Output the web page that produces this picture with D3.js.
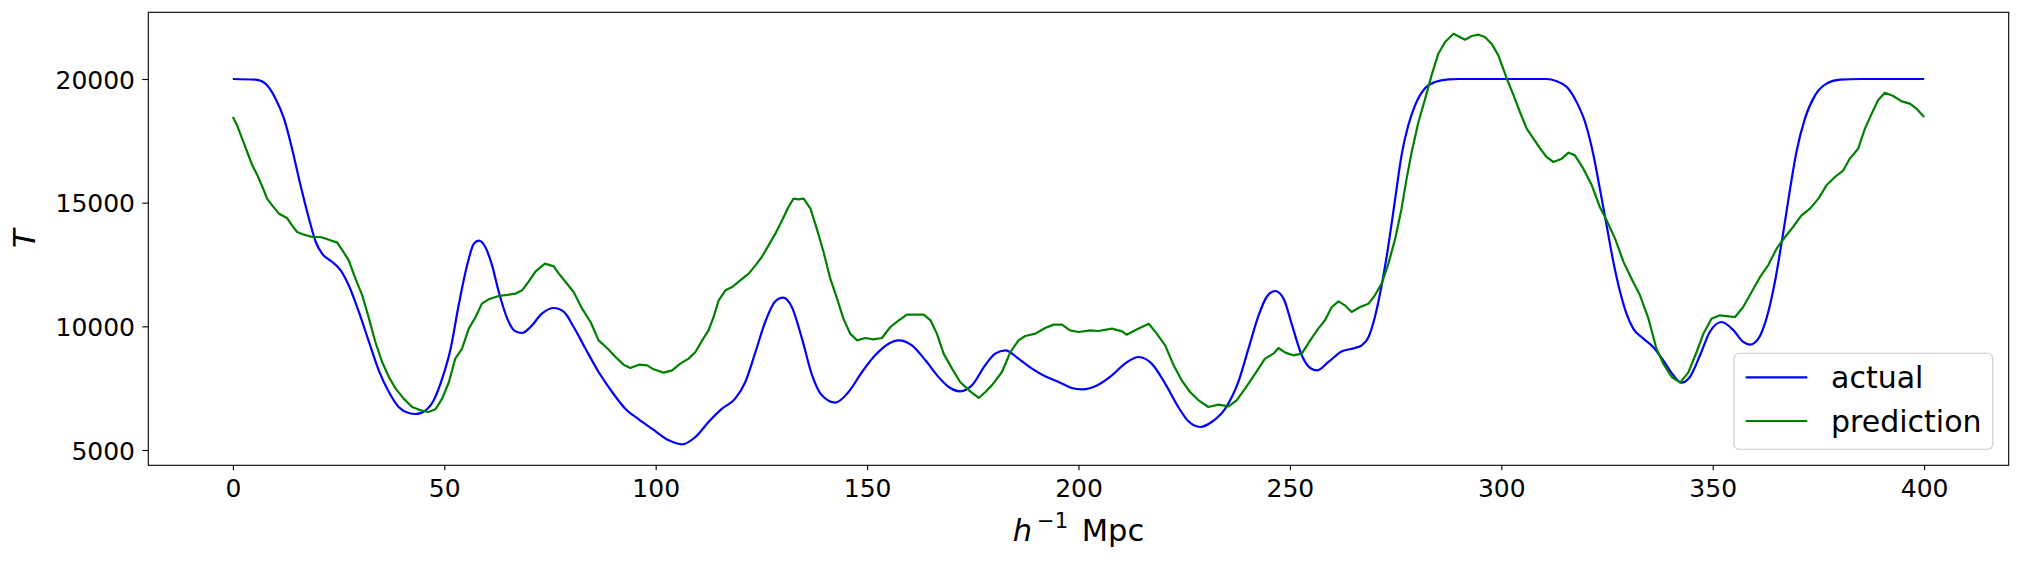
<!DOCTYPE html>
<html>
<head>
<meta charset="UTF-8">
<title>T actual vs prediction</title>
<style>
  html, body { margin: 0; padding: 0; background: #fff; }
  svg { display: block; font-family: "DejaVu Sans", sans-serif; }
</style>
</head>
<body>
<svg id="chart"></svg>
<script src="https://cdn.jsdelivr.net/npm/d3@7"></script>
<script>
// ---- data ----
var actualX = [0, 5.4, 7.7, 10.1, 12.1, 14.0, 16.0, 18.0, 19.6, 21.1, 23.5, 25.5, 27.4, 29.8, 32.2, 34.5, 36.9, 39.2, 41.6, 43.2,
  45.6, 47.5, 49.5, 51.5, 53.4, 55.4, 57.0, 58.2, 59.7, 61.3, 62.9, 64.9, 66.8, 68.4, 70.4, 73.1, 75.9, 78.3, 80.6, 83.4,
  86.5, 89.7, 92.8, 96.0, 99.1, 103.1, 106.2, 109.4, 112.5, 115.7, 118.8, 121.2, 123.6, 125.9, 128.3, 130.1, 132.2, 134.6, 137.0, 139.3,
  142.5, 145.6, 148.8, 151.9, 155.1, 157.5, 160.6, 163.8, 166.9, 169.3, 172.0, 174.8, 177.9, 180.3, 182.7, 185.8, 189.0, 192.1, 195.3, 198.4,
  200.8, 204.7, 207.9, 211.0, 214.2, 217.3, 220.5, 223.6, 226.0, 228.8, 231.5, 234.7, 237.8, 240.2, 242.6, 244.5, 246.5, 248.5, 250.4, 252.8,
  254.8, 256.5, 259.1, 262.3, 265.4, 267.0, 268.6, 270.1, 271.7, 273.3, 274.9, 276.4, 278.0, 279.6, 282.0, 284.3, 287.5, 290, 300, 310.7,
  313.1, 315.5, 317.8, 319.8, 321.8, 323.3, 324.9, 326.5, 328.1, 329.6, 331.2, 333.6, 335.9, 338.3, 340.7, 342.6, 344.6, 347.0, 349.3, 352.1,
  354.9, 357.2, 358.8, 360.8, 362.7, 364.7, 366.7, 368.3, 369.8, 371.8, 374.2, 376.9, 380.1, 385, 400];
var actualT = [20000, 19973, 19811, 19205, 18396, 17183, 15701, 14353, 13410, 12938, 12601, 12264, 11658, 10580, 9367, 8221, 7345, 6739, 6496, 6456,
  6604, 7008, 7884, 9097, 10849, 12466, 13342, 13464, 13208, 12466, 11388, 10310, 9798, 9731, 9973, 10512, 10741, 10580, 9973, 9097,
  8154, 7345, 6671, 6240, 5863, 5391, 5229, 5526, 6132, 6671, 7076, 7750, 8962, 10175, 11011, 11159, 10782, 9502, 8019, 7210,
  6914, 7345, 8154, 8828, 9299, 9434, 9232, 8626, 7952, 7547, 7372, 7615, 8423, 8895, 9030, 8693, 8289, 7979, 7750, 7507,
  7453, 7642, 8019, 8491, 8760, 8491, 7682, 6739, 6159, 5930, 6132, 6671, 7750, 9097, 10445, 11186, 11429, 11119, 10108, 8828,
  8316, 8221, 8558, 8989, 9124, 9232, 9569, 10378, 11658, 13275, 15162, 16914, 18127, 18935, 19636, 19879, 19987, 20000, 20000, 20000,
  19906, 19677, 19070, 18262, 16914, 15566, 14084, 12601, 11388, 10512, 9906, 9502, 9165, 8626, 8019, 7723, 7952, 8828, 9771, 10175,
  9838, 9367, 9259, 9502, 10310, 11793, 13814, 15566, 17049, 18396, 19340, 19811, 19973, 20000, 20000];

var predX = [0, 1.0, 2.2, 3.4, 4.6, 5.8, 7.0, 8.1, 9.3, 10.9, 12.8, 14.0, 15.2, 16.8, 18.8, 20.7, 22.7, 24.7, 25.9, 27.4,
  29.0, 30.6, 32.2, 33.7, 35.3, 36.9, 38.5, 40.4, 42.4, 44.4, 46.3, 47.9, 49.5, 51.1, 52.6, 54.2, 55.8, 57.4, 58.9, 60.5,
  62.9, 65.3, 66.8, 68.4, 70.0, 71.6, 73.8, 75.9, 77.1, 78.7, 80.6, 82.6, 84.6, 86.5, 88.5, 90.5, 92.4, 94.0, 96.0, 98.0,
  99.5, 101.9, 103.9, 105.8, 107.8, 109.4, 111.0, 112.5, 113.7, 114.9, 116.5, 118.1, 120.0, 122.0, 123.6, 125.1, 126.7, 128.3, 129.9, 131.4,
  132.6, 133.8, 135.0, 136.6, 138.1, 139.7, 141.3, 142.9, 144.4, 146.0, 147.6, 149.6, 151.5, 153.5, 155.5, 157.5, 159.4, 161.4, 163.4, 165.0,
  166.5, 168.1, 170.1, 172.0, 174.4, 176.4, 178.0, 179.5, 181.9, 183.9, 185.8, 187.4, 189.8, 192.1, 194.1, 196.1, 198.0, 200.0, 202.8, 204.7,
  207.9, 210.3, 211.4, 213.4, 216.6, 218.5, 220.5, 222.5, 224.4, 226.4, 228.4, 230.7, 233.1, 235.5, 237.4, 239.4, 241.8, 244.1, 246.1, 247.3,
  248.9, 250.8, 252.8, 254.8, 256.7, 258.3, 259.9, 261.5, 263.0, 264.6, 266.6, 268.6, 270.1, 271.7, 273.3, 274.9, 276.4, 277.6, 278.8, 280.4,
  282.0, 283.5, 285.1, 286.7, 288.7, 290.2, 291.4, 293.0, 294.6, 296.1, 297.7, 299.3, 301.3, 302.9, 304.4, 306.0, 307.6, 309.2, 310.7, 312.3,
  314.3, 315.9, 317.4, 319.4, 321.4, 323.3, 324.9, 326.9, 328.9, 330.8, 332.8, 334.8, 336.7, 338.3, 340.3, 342.3, 344.2, 346.2, 347.8, 349.7,
  351.7, 353.7, 355.3, 357.2, 359.2, 361.2, 363.1, 365.1, 367.1, 369.0, 371.0, 373.0, 375.0, 376.9, 378.9, 380.9, 382.4, 384.4, 386.0, 387.6,
  389.1, 390.7, 392.7, 394.7, 396.6, 398.2, 400.0];
var predT = [18464, 18127, 17588, 17049, 16510, 16105, 15634, 15162, 14892, 14555, 14380, 14084, 13814, 13706, 13612, 13612, 13504, 13383, 13073, 12669,
  11927, 11254, 10310, 9367, 8558, 7952, 7480, 7076, 6739, 6604, 6537, 6644, 7076, 7750, 8693, 9097, 9906, 10378, 10917, 11092,
  11227, 11281, 11321, 11456, 11820, 12224, 12534, 12426, 12130, 11793, 11388, 10714, 10175, 9434, 9124, 8760, 8450, 8316, 8450, 8423,
  8262, 8127, 8221, 8491, 8693, 8962, 9434, 9838, 10378, 11051, 11456, 11590, 11860, 12130, 12466, 12803, 13275, 13747, 14286, 14825,
  15162, 15135, 15162, 14758, 13949, 13006, 11927, 11119, 10310, 9704, 9434, 9528, 9475, 9528, 9973, 10243, 10472, 10472, 10472, 10243,
  9704, 8895, 8289, 7750, 7372, 7103, 7345, 7615, 8154, 8962, 9434, 9609, 9704, 9933, 10068, 10068, 9838, 9771, 9838, 9812,
  9906, 9798, 9663, 9838, 10108, 9704, 9232, 8423, 7817, 7345, 7008, 6739, 6833, 6766, 7008, 7480, 8086, 8693, 8895, 9124,
  8936, 8828, 8895, 9434, 9906, 10243, 10782, 11011, 10849, 10580, 10782, 10917, 11254, 11725, 12534, 13545, 14758, 15970, 17049, 18262,
  19205, 20148, 21024, 21496, 21833, 21698, 21590, 21739, 21793, 21698, 21429, 20957, 20014, 19340, 18666, 17992, 17588, 17183, 16847, 16644,
  16779, 17022, 16914, 16375, 15701, 14825, 14286, 13545, 12601, 11927, 11254, 10310, 9097, 8491, 7952, 7723, 8127, 8962, 9704, 10310,
  10445, 10405, 10378, 10782, 11388, 11995, 12466, 13140, 13612, 14016, 14488, 14758, 15162, 15701, 16038, 16307, 16779, 17183, 17992, 18599,
  19138, 19448, 19313, 19097, 19003, 18801, 18464];

var xTicks = [0, 50, 100, 150, 200, 250, 300, 350, 400];
var yTicks = [5000, 10000, 15000, 20000];
var seriesNames = ["actual", "prediction"];
var seriesColors = ["blue", "green"];

// ---- layout ----
var width = 2019, height = 563;
var plotL = 148.3, plotR = 2008.7, plotT = 12.3, plotB = 465.3;

var svg = d3.select("#chart").attr("width", width).attr("height", height);

var x = d3.scaleLinear().domain([-20, 420]).range([plotL, plotR]);
var y = d3.scaleLinear().domain([4381, 22697]).range([plotB, plotT]);

// axes
var gx = svg.append("g").attr("transform", "translate(0," + plotB + ")")
  .call(d3.axisBottom(x).tickValues(xTicks).tickSize(5).tickSizeOuter(0).tickPadding(8.6).tickFormat(d3.format("d")));
var gy = svg.append("g").attr("transform", "translate(" + plotL + ",0)")
  .call(d3.axisLeft(y).tickValues(yTicks).tickSize(6).tickSizeOuter(0).tickPadding(7.3).tickFormat(d3.format("d")));
gx.select(".domain").remove();
gy.select(".domain").remove();
svg.selectAll(".tick line").attr("stroke", "#000").attr("stroke-width", 1.1);
svg.selectAll(".tick text").attr("fill", "#000").style("font-size", "25px").style("font-family", "DejaVu Sans");
gy.selectAll(".tick text").attr("dy", "0.364em");

// lines
var actual = actualX.map(function(d, i) { return [d, actualT[i]]; });
var pred = predX.map(function(d, i) { return [d, predT[i]]; });

var lineSmooth = d3.line().x(function(d) { return x(d[0]); }).y(function(d) { return y(d[1]); }).curve(d3.curveMonotoneX);
var lineRaw = d3.line().x(function(d) { return x(d[0]); }).y(function(d) { return y(d[1]); });

svg.append("path").datum(actual).attr("d", lineSmooth)
  .attr("fill", "none").attr("stroke", seriesColors[0]).attr("stroke-width", 2.2);
svg.append("path").datum(pred).attr("d", lineRaw)
  .attr("fill", "none").attr("stroke", seriesColors[1]).attr("stroke-width", 2.2)
  .attr("stroke-linejoin", "round");

// frame
svg.append("rect").attr("x", plotL).attr("y", plotT).attr("width", plotR - plotL).attr("height", plotB - plotT)
  .attr("fill", "none").attr("stroke", "#000").attr("stroke-width", 1.1);

// axis labels
var xl = svg.append("text").attr("x", (plotL + plotR) / 2).attr("y", 540.7)
  .attr("text-anchor", "middle").style("font-size", "30.5px").attr("fill", "#000");
xl.append("tspan").style("font-style", "italic").text("h");
xl.append("tspan").attr("dx", 5).attr("dy", -12.5).style("font-size", "21px").text("\u22121");
xl.append("tspan").attr("dx", 4).attr("dy", 12.5).text(" Mpc");

svg.append("text").attr("transform", "translate(34.5," + (plotT + plotB) / 2 + ") rotate(-90)")
  .attr("text-anchor", "middle").style("font-size", "30.5px").style("font-style", "italic")
  .attr("fill", "#000").text("T");

// legend
var lg = svg.append("g");
lg.append("rect").attr("x", 1734).attr("y", 353.3).attr("width", 258.7).attr("height", 96)
  .attr("rx", 5).attr("fill", "#fff").attr("fill-opacity", 0.8)
  .attr("stroke", "#cccccc").attr("stroke-width", 1.1);
seriesNames.forEach(function(name, i) {
  var ly = 377.3 + i * 43.7;
  lg.append("line").attr("x1", 1745.7).attr("x2", 1807.3).attr("y1", ly).attr("y2", ly)
    .attr("stroke", seriesColors[i]).attr("stroke-width", 2.2);
  lg.append("text").attr("x", 1831).attr("y", ly + 11).style("font-size", "30px")
    .attr("fill", "#000").text(name);
});
</script>
</body>
</html>
